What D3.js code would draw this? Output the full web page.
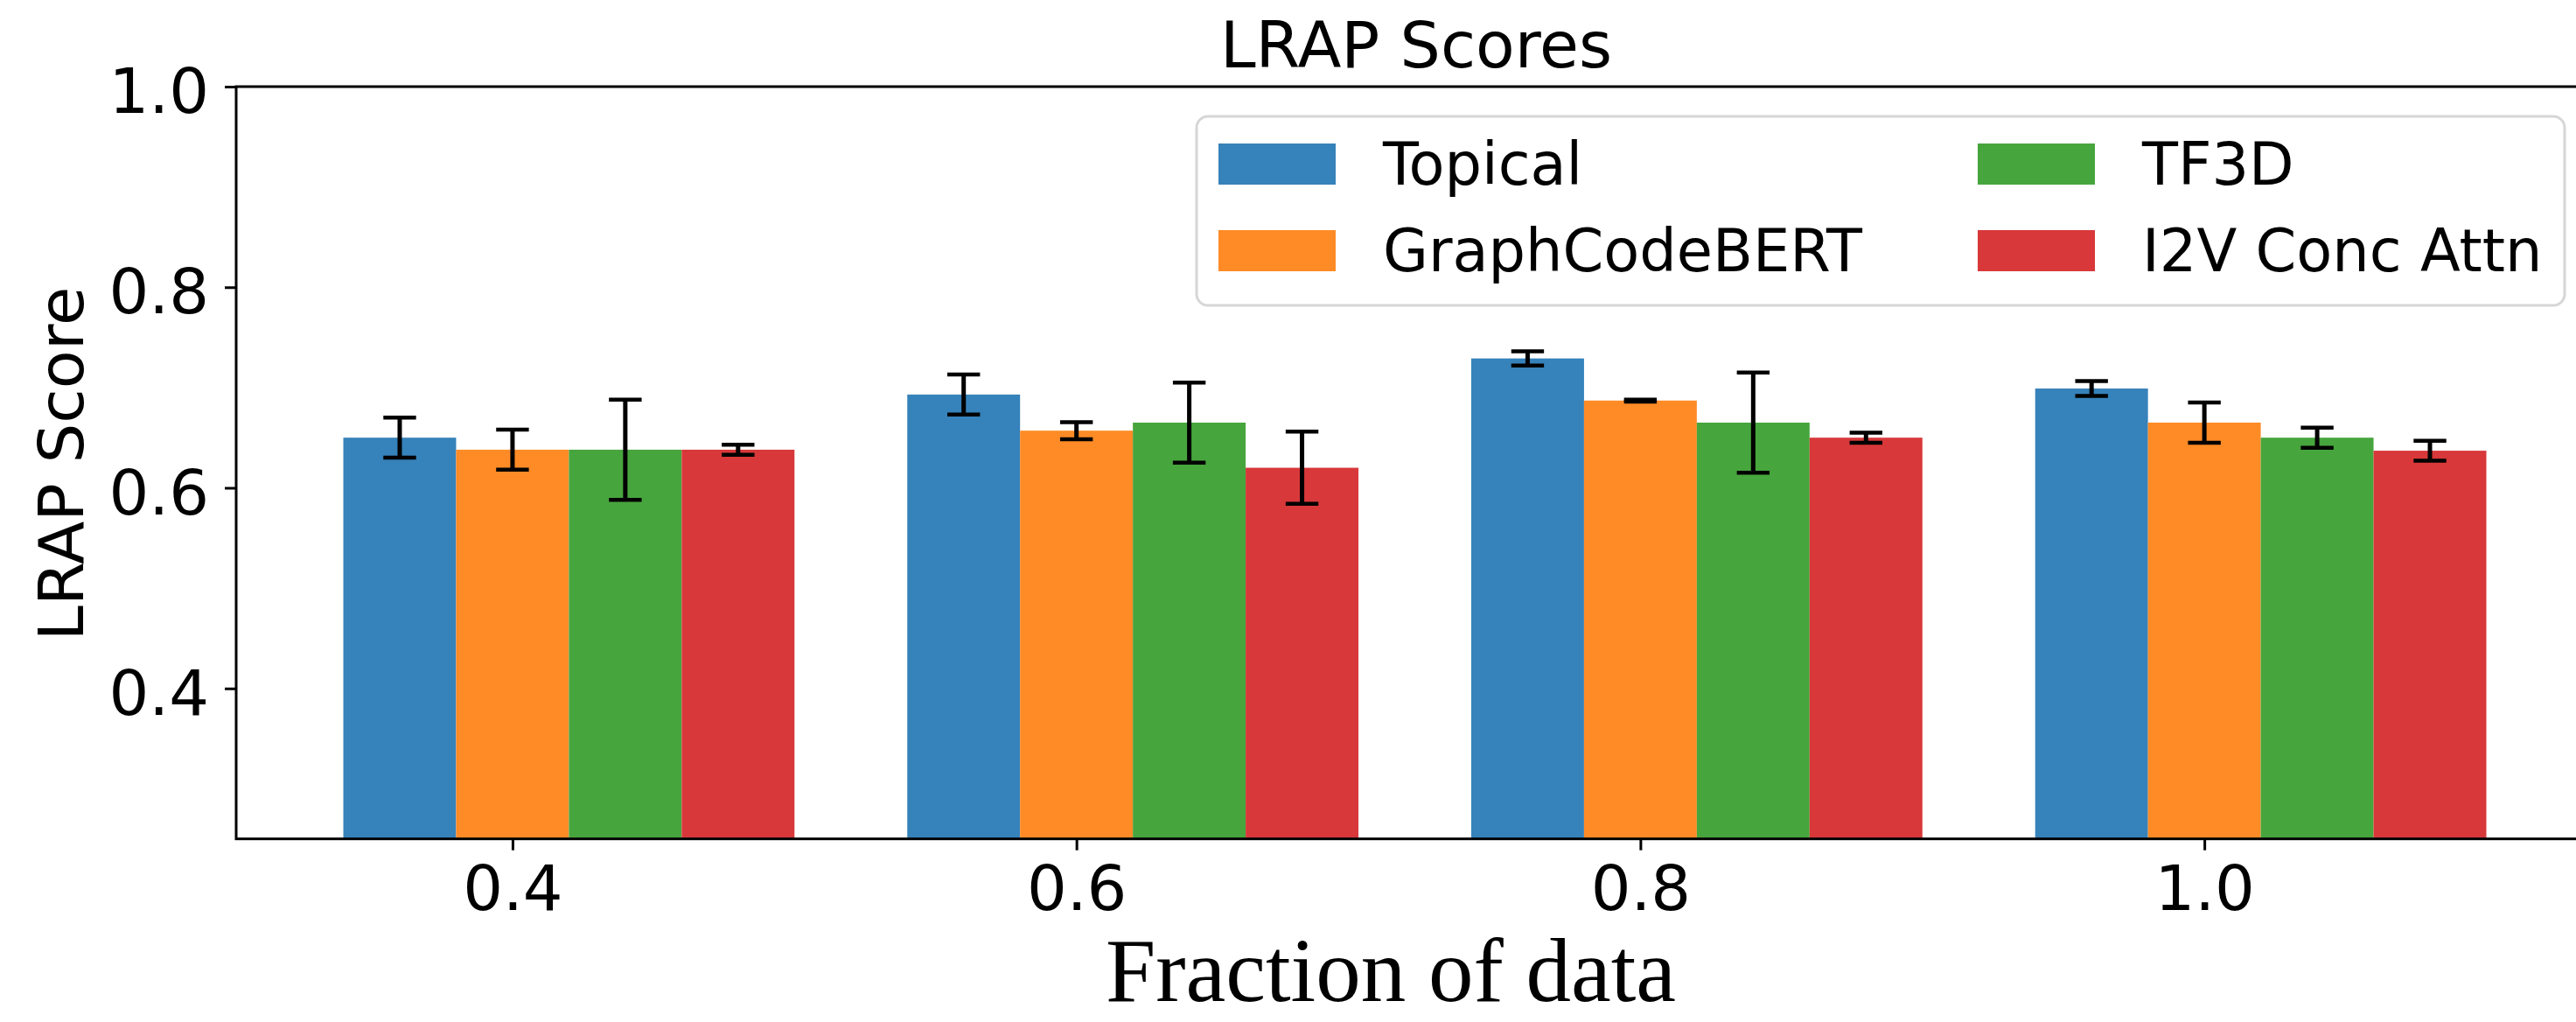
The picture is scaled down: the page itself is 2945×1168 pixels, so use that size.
<!DOCTYPE html>
<html>
<head>
<meta charset="utf-8">
<script src="https://cdn.jsdelivr.net/npm/d3@7"></script>
<style>
  body { margin: 0; background: #fff; }
  svg { display: block; }
</style>
</head>
<body>
<div id="chart"></div>
<script>
// data
const fractions = ["0.4", "0.6", "0.8", "1.0"];
const seriesNames = ["Topical", "GraphCodeBERT", "TF3D", "I2V Conc Attn"];
const topical = [0.650, 0.693, 0.729, 0.699];
const graphCodeBert = [0.638, 0.657, 0.687, 0.665];
const tf3d = [0.638, 0.665, 0.665, 0.650];
const i2v = [0.638, 0.620, 0.650, 0.637];
const topicalErr = [0.020, 0.020, 0.007, 0.0075];
const graphCodeBertErr = [0.020, 0.0085, 0.001, 0.020];
const tf3dErr = [0.050, 0.040, 0.050, 0.010];
const i2vErr = [0.005, 0.036, 0.005, 0.010];
const yTicks = [0.4, 0.6, 0.8, 1.0];
const colors = ["#3682ba", "#fe8b26", "#47a53d", "#d8383a"];

const values = [topical, graphCodeBert, tf3d, i2v];
const errs = [topicalErr, graphCodeBertErr, tf3dErr, i2vErr];

const W = 2945, H = 1168;
const plot = {left: 270, top: 99, bottom: 958.7, right: 2965};
const barW = 0.2;

const svg = d3.select("#chart")
  .append("svg")
  .attr("width", W)
  .attr("height", H);

const x = d3.scaleLinear().domain([-0.49, 3.69]).range([plot.left, plot.right]);
const y = d3.scaleLinear().domain([0.25, 1.0]).range([plot.bottom, plot.top]);

// bars
const rows = [];
values.forEach(function(vals, s) {
  vals.forEach(function(v, i) {
    rows.push({s: s, i: i, v: v, e: errs[s][i], c: i + (s - 1) * barW});
  });
});

svg.append("g").selectAll("rect")
  .data(rows)
  .enter()
  .append("rect")
  .attr("x", d => x(d.c - barW / 2))
  .attr("width", d => x(d.c + barW / 2) - x(d.c - barW / 2))
  .attr("y", d => y(d.v))
  .attr("height", d => y(0.25) - y(d.v))
  .attr("fill", d => colors[d.s]);

// error bars
const eb = svg.append("g").attr("stroke", "#000").attr("stroke-width", 5);
const capHalf = 0.029;
rows.forEach(function(d) {
  eb.append("line")
    .attr("x1", x(d.c)).attr("x2", x(d.c))
    .attr("y1", y(d.v + d.e)).attr("y2", y(d.v - d.e));
  [d.v + d.e, d.v - d.e].forEach(function(t) {
    eb.append("line")
      .attr("x1", x(d.c - capHalf)).attr("x2", x(d.c + capHalf))
      .attr("y1", y(t)).attr("y2", y(t))
      .attr("stroke-width", 4.5);
  });
});

// axes
const yAxis = svg.append("g")
  .attr("transform", "translate(" + plot.left + ",0)")
  .call(d3.axisLeft(y).tickValues(yTicks).tickFormat(d3.format(".1f")).tickSize(13).tickPadding(18).tickSizeOuter(0));
const xAxis = svg.append("g")
  .attr("transform", "translate(0," + plot.bottom + ")")
  .call(d3.axisBottom(x).tickValues([0, 1, 2, 3]).tickFormat(i => fractions[i]).tickSize(13).tickPadding(17).tickSizeOuter(0));

[yAxis, xAxis].forEach(function(a) {
  a.select(".domain").remove();
  a.selectAll(".tick line").attr("stroke", "#000").attr("stroke-width", 3);
  a.selectAll(".tick text")
    .attr("fill", "#000")
    .style("font-family", "DejaVu Sans")
    .style("font-size", "72px");
});
yAxis.selectAll(".tick text").attr("dy", "0.41em");

// frame
svg.append("rect")
  .attr("x", plot.left).attr("y", plot.top)
  .attr("width", plot.right - plot.left).attr("height", plot.bottom - plot.top)
  .attr("fill", "none").attr("stroke", "#000").attr("stroke-width", 3);

// title and labels
svg.append("text")
  .attr("x", 1619).attr("y", 77)
  .attr("text-anchor", "middle")
  .style("font-family", "DejaVu Sans").style("font-size", "73px")
  .text("LRAP Scores");

svg.append("text")
  .attr("transform", "translate(95,530) rotate(-90)")
  .attr("text-anchor", "middle")
  .style("font-family", "DejaVu Sans").style("font-size", "72px")
  .text("LRAP Score");

svg.append("text")
  .attr("x", 1590).attr("y", 1144)
  .attr("text-anchor", "middle")
  .style("font-family", "Liberation Serif").style("font-size", "103px")
  .text("Fraction of data");

// legend
const legend = svg.append("g");
legend.append("rect")
  .attr("x", 1368).attr("y", 133)
  .attr("width", 2932 - 1368).attr("height", 349 - 133)
  .attr("rx", 13)
  .attr("fill", "#fff").attr("fill-opacity", 0.8)
  .attr("stroke", "#d6d6d6").attr("stroke-width", 3);

const legendCols = [1393, 2261];
const legendRows = [164, 263];
seriesNames.forEach(function(name, k) {
  const col = Math.floor(k / 2), row = k % 2;
  legend.append("rect")
    .attr("x", legendCols[col]).attr("y", legendRows[row])
    .attr("width", 134).attr("height", 47)
    .attr("fill", colors[k]);
  legend.append("text")
    .attr("x", legendCols[col] + 188).attr("y", legendRows[row] + 47)
    .style("font-family", "DejaVu Sans").style("font-size", "67px")
    .text(name);
});
</script>
</body>
</html>
